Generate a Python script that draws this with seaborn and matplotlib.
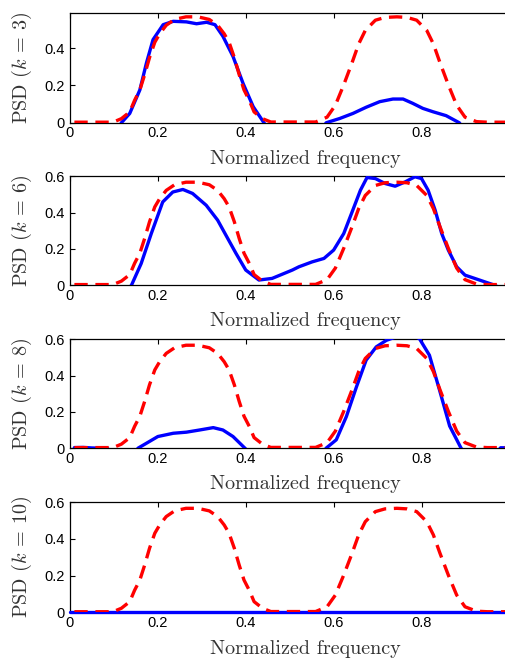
import matplotlib
matplotlib.use("Agg")
import matplotlib.pyplot as plt
import seaborn as sns
import pandas as pd

# target PSD (red dashed), same in every panel
target_x = [0.01, 0.098, 0.117, 0.136, 0.147, 0.159, 0.17, 0.181, 0.193, 0.204, 0.219,
            0.238, 0.264, 0.291, 0.317, 0.336, 0.351, 0.362, 0.374, 0.385, 0.396, 0.408,
            0.419, 0.438, 0.457, 0.559, 0.585, 0.604, 0.623, 0.642, 0.657, 0.672, 0.695,
            0.717, 0.744, 0.767, 0.789, 0.812, 0.827, 0.842, 0.861, 0.88, 0.899, 0.925,
            0.95, 0.99]
target_y = [0.003, 0.003, 0.022, 0.058, 0.12, 0.176, 0.258, 0.349, 0.431, 0.476, 0.522,
            0.553, 0.567, 0.567, 0.553, 0.522, 0.476, 0.431, 0.349, 0.258, 0.176, 0.12,
            0.058, 0.022, 0.004, 0.004, 0.03, 0.094, 0.203, 0.322, 0.422, 0.494, 0.549,
            0.564, 0.567, 0.564, 0.549, 0.494, 0.422, 0.322, 0.203, 0.094, 0.03, 0.006,
            0.003, 0.003]

# estimated PSD (blue), k = 3
k3_x = [0.0, 0.11, 0.117, 0.136, 0.159, 0.174, 0.189, 0.212, 0.235, 0.265, 0.288, 0.311,
        0.33, 0.348, 0.371, 0.394, 0.417, 0.44, 0.45, 0.575, 0.583, 0.614, 0.644, 0.674,
        0.705, 0.735, 0.758, 0.78, 0.803, 0.826, 0.856, 0.886, 0.895, 0.99]
k3_y = [-0.03, -0.03, 0.0, 0.05, 0.176, 0.32, 0.445, 0.525, 0.543, 0.54, 0.53, 0.538,
        0.525, 0.463, 0.355, 0.21, 0.086, 0.005, -0.03, -0.03, 0.0, 0.023, 0.05, 0.083,
        0.113, 0.127, 0.127, 0.104, 0.077, 0.059, 0.038, 0.0, -0.03, -0.03]

# k = 6
k6_x = [0.0, 0.13, 0.14, 0.162, 0.185, 0.211, 0.234, 0.257, 0.279, 0.31, 0.336, 0.359,
        0.378, 0.4, 0.43, 0.46, 0.506, 0.521, 0.551, 0.578, 0.6, 0.623, 0.642, 0.661,
        0.676, 0.695, 0.717, 0.74, 0.763, 0.785, 0.8, 0.815, 0.831, 0.846, 0.861, 0.88,
        0.899, 0.921, 0.944, 0.966, 0.99]
k6_y = [-0.03, -0.03, 0.0, 0.119, 0.284, 0.458, 0.513, 0.527, 0.505, 0.44, 0.358, 0.257,
        0.174, 0.083, 0.028, 0.037, 0.083, 0.101, 0.128, 0.147, 0.193, 0.284, 0.403, 0.523,
        0.593, 0.587, 0.56, 0.545, 0.569, 0.597, 0.587, 0.523, 0.413, 0.284, 0.193, 0.101,
        0.055, 0.037, 0.018, 0.0, -0.03]

# k = 8
k8_x = [0.01, 0.03, 0.05, 0.07, 0.085, 0.095, 0.145, 0.155, 0.174, 0.2, 0.235, 0.265,
        0.295, 0.326, 0.348, 0.371, 0.398, 0.41, 0.575, 0.583, 0.606, 0.629, 0.652, 0.674,
        0.697, 0.72, 0.742, 0.773, 0.795, 0.818, 0.841, 0.864, 0.89, 0.9, 0.97, 0.98, 0.99]
k8_y = [0.003, 0.004, 0.001, 0.0, 0.0, -0.03, -0.03, 0.0, 0.027, 0.064, 0.082, 0.088,
        0.1, 0.113, 0.1, 0.064, 0.0, -0.03, -0.03, 0.0, 0.046, 0.174, 0.338, 0.485,
        0.558, 0.594, 0.613, 0.63, 0.604, 0.512, 0.32, 0.122, 0.0, -0.03, -0.03, 0.002, 0.002]

# k = 10 (flat)
k10_x = [0.0, 0.99]
k10_y = [0.0, 0.0]

panels = [
    (3, k3_x, k3_y, 0.59, [0, 0.2, 0.4]),
    (6, k6_x, k6_y, 0.6, [0, 0.2, 0.4, 0.6]),
    (8, k8_x, k8_y, 0.6, [0, 0.2, 0.4, 0.6]),
    (10, k10_x, k10_y, 0.6, [0, 0.2, 0.4, 0.6]),
]
xticks = [0, 0.2, 0.4, 0.6, 0.8]

sns.set_style("white")
plt.rcParams['mathtext.fontset'] = 'cm'
plt.rcParams['xtick.direction'] = 'in'
plt.rcParams['ytick.direction'] = 'in'

fig = plt.figure(figsize=(5.05, 6.6), dpi=100)
boxes = [0.814, 0.568, 0.321, 0.0723]
heights = [0.167, 0.165, 0.165, 0.1667]

target = pd.DataFrame({'f': target_x, 'psd': target_y})

for (k, bx, by, ytop, yt), b, h in zip(panels, boxes, heights):
    ax = fig.add_axes([0.1386, b, 0.8614, h])
    est = pd.DataFrame({'f': bx, 'psd': by})
    # the flat k=10 estimate sits on the axis, so let it draw over the spine
    sns.lineplot(data=est, x='f', y='psd', ax=ax, color=(0, 0, 1), lw=2.4,
                 estimator=None, sort=False, zorder=3, clip_on=(k != 10))
    sns.lineplot(data=target, x='f', y='psd', ax=ax, color=(1, 0, 0), lw=2.4,
                 estimator=None, sort=False, zorder=3.5, linestyle=(0, (4.0, 2.3)))
    ax.set_xlim(0, 0.99)
    ax.set_ylim(0, ytop)
    ax.set_xticks(xticks)
    ax.set_xticklabels(['0', '0.2', '0.4', '0.6', '0.8'], family='Liberation Sans', fontsize=10.5)
    ax.set_yticks(yt)
    ax.set_yticklabels(['0' if v == 0 else f'{v:g}' for v in yt], family='Liberation Sans', fontsize=10.5)
    ax.tick_params(axis='x', top=True, length=3.5, width=0.8, pad=2.5, colors='black')
    ax.tick_params(axis='y', left=True, length=3.5, width=0.8, pad=4, colors='black')
    for s in ['left', 'top', 'bottom']:
        ax.spines[s].set_color('black')
        ax.spines[s].set_linewidth(0.9)
    ax.spines['right'].set_visible(False)
    ax.set_xlabel('Normalized frequency', family='cmr10', fontsize=14.5, color='#333333')
    ax.set_ylabel(f'PSD ($k$ = {k})', family='cmr10', fontsize=14.5, color='#333333')
    ax.xaxis.set_label_coords(0.54, -0.25)
    ax.yaxis.set_label_coords(-0.082, 0.5)

fig.savefig('out.png', dpi=100)
